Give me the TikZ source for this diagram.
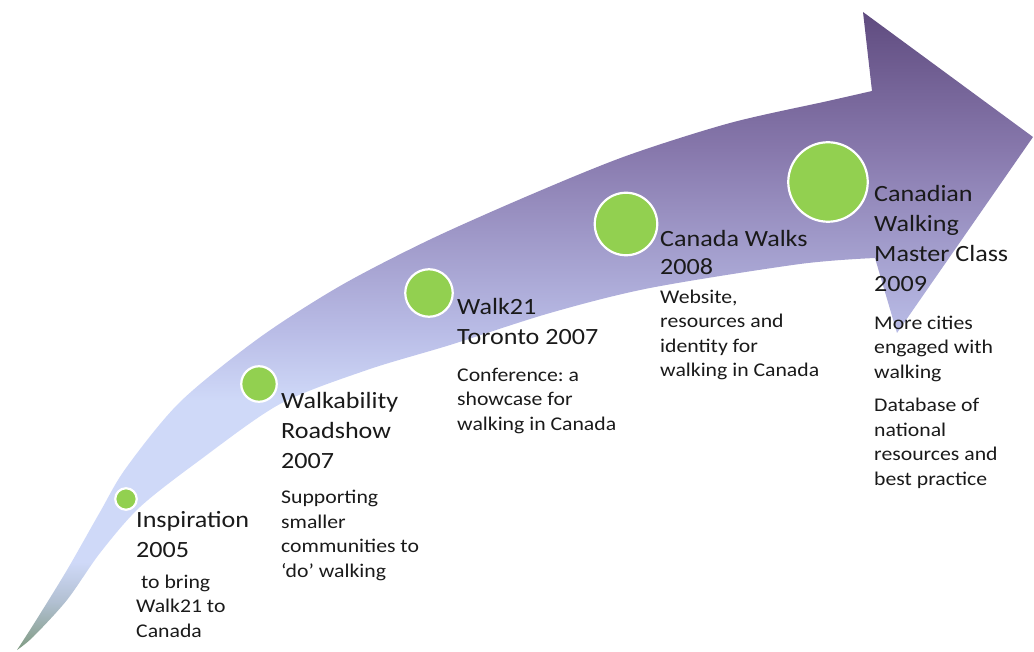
\documentclass[tikz,border=0pt]{standalone}
\usepackage{fontspec}
\setmainfont{Carlito}[FakeStretch=1.12]
\usepackage{tikz}
\frenchspacing

\definecolor{dotgreen}{RGB}{146,208,80}
\definecolor{inkgrey}{RGB}{26,26,26}
\definecolor{tailgreen}{RGB}{128,155,130}
\definecolor{tailblue}{RGB}{178,192,210}
\definecolor{paleblue}{RGB}{207,217,248}
\definecolor{midlilac}{RGB}{185,188,230}
\definecolor{lilac}{RGB}{163,158,205}
\definecolor{deeplilac}{RGB}{135,120,172}
\definecolor{toppurple}{RGB}{96,76,128}

\pgfdeclareverticalshading{arrowfade}{100bp}{color(0bp)=(tailgreen); color(25bp)=(tailgreen);
  color(28.8bp)=(tailblue); color(31.9bp)=(paleblue); color(44.5bp)=(paleblue);
  color(50bp)=(midlilac); color(56.3bp)=(lilac); color(64.2bp)=(deeplilac);
  color(74.8bp)=(toppurple); color(100bp)=(toppurple)}

\newcommand\tlhead{\fontsize{23.3}{30}\selectfont}
\newcommand\tlbody{\fontsize{19.4}{24.5}\selectfont}

\begin{document}
\begin{tikzpicture}[x=1pt, y=-1pt,
  dot/.style={draw=white, line width=2.2pt, circle, inner sep=0pt, fill=dotgreen},
  head/.style={anchor=base west, align=left, inner sep=0pt, font=\tlhead, text=inkgrey},
  note/.style={anchor=base west, align=left, inner sep=0pt, font=\tlbody, text=inkgrey}]
\useasboundingbox (0,0) rectangle (1034,652);

% the big curved arrow
\shade[shading=arrowfade] plot[smooth, tension=0.5] coordinates {(17,650) (35,622) (67,570) (100,512) (126,468) (180,402) (259,338) (340,286) (429,240) (530,195) (626,156) (730,123) (828,101) (872,91)}
  -- (863,12) -- (1033,137) -- (897,333) -- (875,258)
  -- plot[smooth, tension=0.5] coordinates {(875,258) (800,264) (650,288) (550,313) (450,345) (367,370) (280,404) (200,460) (140,507) (100,553) (67,600) (33,637) (17,650)} -- cycle;

% milestones
\node[dot, minimum size=21.5pt] (inspire) at (126,499) {};
\node[dot, minimum size=35.5pt] (roadshow) at (259,384) {};
\node[dot, minimum size=47.5pt] (toronto) at (429,293) {};
\node[dot, minimum size=62.5pt] (walks) at (626,224) {};
\node[dot, minimum size=79.5pt] (master) at (828,182) {};

% texts (base = last line)
\node[head] (inspire-head) at (136,557) {Inspiration\\2005};
\node[note] (inspire-note) at (136,637) {\ to bring\\Walk21 to\\Canada};

\node[head] (roadshow-head) at (281,468) {Walkability\\Roadshow\\2007};
\node[note] (roadshow-note) at (281,577) {Supporting\\smaller\\communities to\\‘do’ walking};

\node[head] (toronto-head) at (457,345) {Walk21\\Toronto 2007};
\node[note] (toronto-note) at (457,430) {Conference: a\\showcase for\\walking in Canada};

\node[head, font=\fontsize{23.3}{28}\selectfont] (walks-head) at (660,275) {Canada Walks\\2008};
\node[note] (walks-note) at (660,377) {Website,\\resources and\\identity for\\walking in Canada};

\node[head] (master-head) at (874,292) {Canadian\\Walking\\Master Class\\2009};
\node[note] (master-note) at (874,485) {More cities\\engaged with\\walking\\[9pt]Database of\\national\\resources and\\best practice};

\end{tikzpicture}
\end{document}
